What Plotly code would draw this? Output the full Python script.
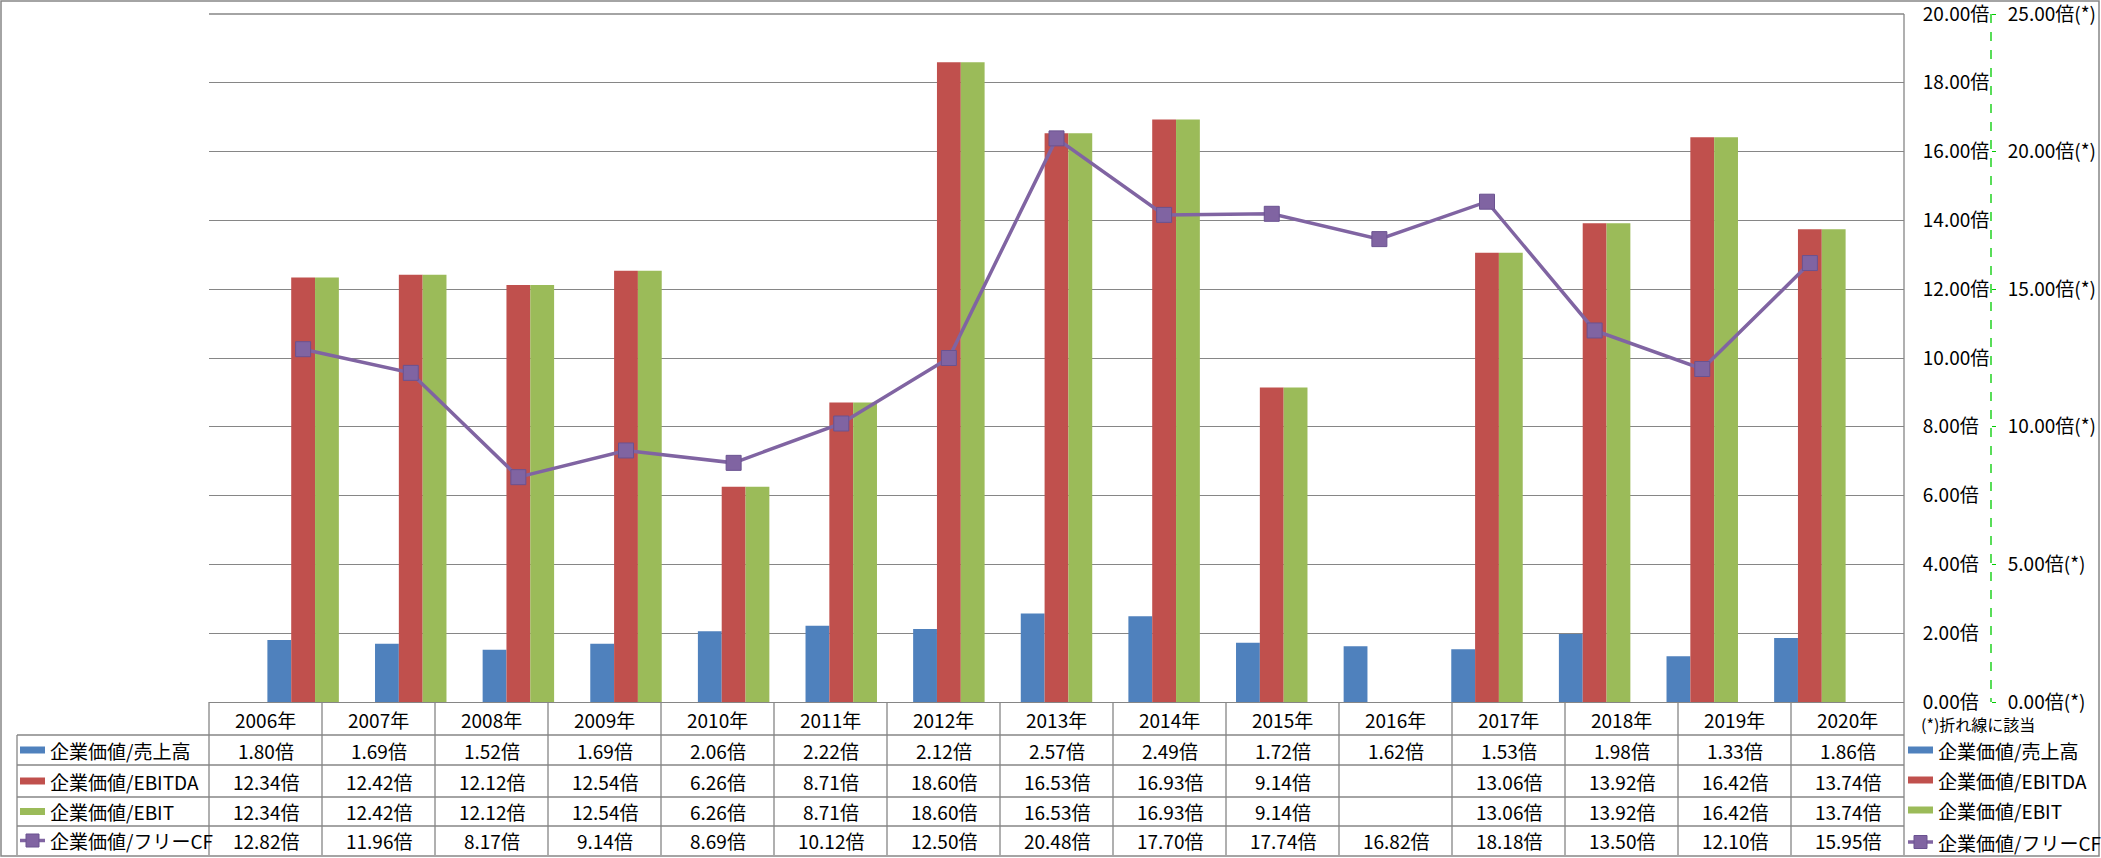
import plotly.graph_objects as go

W, H = 2101, 858

years = ["2006年", "2007年", "2008年", "2009年", "2010年", "2011年", "2012年", "2013年",
         "2014年", "2015年", "2016年", "2017年", "2018年", "2019年", "2020年"]
ev_sales = [1.80, 1.69, 1.52, 1.69, 2.06, 2.22, 2.12, 2.57, 2.49, 1.72, 1.62, 1.53, 1.98, 1.33, 1.86]
ev_ebitda = [12.34, 12.42, 12.12, 12.54, 6.26, 8.71, 18.60, 16.53, 16.93, 9.14, None, 13.06, 13.92, 16.42, 13.74]
ev_ebit = [12.34, 12.42, 12.12, 12.54, 6.26, 8.71, 18.60, 16.53, 16.93, 9.14, None, 13.06, 13.92, 16.42, 13.74]
ev_fcf = [12.82, 11.96, 8.17, 9.14, 8.69, 10.12, 12.50, 20.48, 17.70, 17.74, 16.82, 18.18, 13.50, 12.10, 15.95]

names = ["企業価値/売上高", "企業価値/EBITDA", "企業価値/EBIT", "企業価値/フリーCF"]
colors = ["#4F81BD", "#C0504D", "#9BBB59", "#8064A2"]

FONT = "Noto Sans CJK JP, sans-serif"
GRID = "#868686"

# plot area in pixels
X0, X1 = 209, 1904
Y0, Y1 = 14, 702


def px(x):
    return x / W


def py(y):
    return 1 - y / H


fig = go.Figure()
for vals, name, col in zip([ev_sales, ev_ebitda, ev_ebit], names[:3], colors[:3]):
    fig.add_trace(go.Bar(x=years, y=vals, name=name, marker=dict(color=col, line_width=0)))

fig.add_trace(go.Scatter(
    x=years, y=ev_fcf, name=names[3], yaxis="y2", mode="lines+markers",
    line=dict(color=colors[3], width=3.5),
    marker=dict(symbol="square", size=15, color=colors[3], line=dict(color="#6A5290", width=1)),
))

shapes = []
annotations = []


def hline(y, xa, xb, color=GRID, width=1.3):
    shapes.append(dict(type="line", xref="paper", yref="paper", x0=px(xa), x1=px(xb),
                       y0=py(y), y1=py(y), line=dict(color=color, width=width)))


def vline(x, ya, yb, color=GRID, width=1.3, dash=None):
    shapes.append(dict(type="line", xref="paper", yref="paper", x0=px(x), x1=px(x),
                       y0=py(ya), y1=py(yb), line=dict(color=color, width=width, dash=dash)))


def text(x, y, s, size=19, xanchor="center"):
    annotations.append(dict(x=px(x), y=py(y), xref="paper", yref="paper", text=s,
                            showarrow=False, xanchor=xanchor, yanchor="middle",
                            font=dict(family=FONT, size=size, color="#000000")))


# outer frame
shapes.append(dict(type="rect", xref="paper", yref="paper", x0=px(1), x1=px(W - 2),
                   y0=py(H - 2), y1=py(1), line=dict(color=GRID, width=1.5)))

# top gridline and right border of plot area
hline(Y0, X0, X1)
vline(X1, Y0, Y1)

# secondary axis dashed line
vline(1991, Y0, Y1, color="#00CC00", width=1.3, dash="dash")

# data table
col_w = (X1 - X0) / len(years)
row_edges = [702, 735, 765, 797, 826, 855]
hline(735, 17, X1)
for y in row_edges[2:5]:
    hline(y, 17, X1)
vline(17, 735, 855)
for i in range(len(years) + 1):
    vline(X0 + i * col_w, 702, 855)

for i, yr in enumerate(years):
    cx = X0 + (i + 0.5) * col_w
    text(cx, 719, yr)
    for r, series in enumerate([ev_sales, ev_ebitda, ev_ebit, ev_fcf]):
        v = series[i]
        if v is not None:
            text(cx, (row_edges[r + 1] + row_edges[r + 2]) / 2, f"{v:.2f}倍")


def legend_key(x, yc, k):
    if k < 3:
        shapes.append(dict(type="rect", xref="paper", yref="paper", x0=px(x), x1=px(x + 25),
                           y0=py(yc + 3.5), y1=py(yc - 3.5), line_width=0, fillcolor=colors[k]))
    else:
        shapes.append(dict(type="line", xref="paper", yref="paper", x0=px(x), x1=px(x + 25),
                           y0=py(yc), y1=py(yc), line=dict(color=colors[k], width=3.5)))
        shapes.append(dict(type="rect", xref="paper", yref="paper", x0=px(x + 6), x1=px(x + 19),
                           y0=py(yc + 6.5), y1=py(yc - 6.5), line=dict(color="#6A5290", width=1),
                           fillcolor=colors[k]))


# row headers in table
for k, nm in enumerate(names):
    yc = (row_edges[k + 1] + row_edges[k + 2]) / 2
    legend_key(20, yc, k)
    text(48, yc, nm, size=19, xanchor="left")

# right-hand legend
text(1919, 724, "(*)折れ線に該当", size=16, xanchor="left")
for k, (nm, yc) in enumerate(zip(names, [750, 780, 810, 842])):
    legend_key(1908, yc, k)
    text(1936, yc, nm, size=19, xanchor="left")

fig.update_layout(
    width=W, height=H,
    margin=dict(l=0, r=0, t=0, b=0, autoexpand=False),
    paper_bgcolor="white", plot_bgcolor="white",
    barmode="group", bargap=0.336, bargroupgap=0,
    showlegend=False,
    font=dict(family=FONT, color="#000000"),
    xaxis=dict(domain=[px(X0), px(X1)], showticklabels=False, showgrid=False,
               showline=True, linecolor=GRID, linewidth=1.3, ticks="", zeroline=False),
    yaxis=dict(domain=[py(Y1), py(Y0)], range=[0, 20.0001], dtick=2, side="right",
               tickformat=".2f", ticksuffix="倍", showgrid=True, gridcolor=GRID, gridwidth=1.3,
               zeroline=False, ticks="outside", ticklen=14, tickcolor="rgba(0,0,0,0)",
               ticklabeloverflow="allow",
               tickfont=dict(family=FONT, size=19, color="#000000"), automargin=False),
    yaxis2=dict(overlaying="y", anchor="free", position=px(1991), side="right",
                range=[0, 25.0001], dtick=5, tickformat=".2f", ticksuffix="倍(*)",
                showgrid=False, zeroline=False, ticks="outside", ticklen=4,
                tickcolor="#00CC00", tickwidth=1.3, ticklabeloverflow="allow",
                ticklabelstandoff=8,
                tickfont=dict(family=FONT, size=19, color="#000000"), automargin=False),
    shapes=shapes,
    annotations=annotations,
)

fig.write_html("out.html", config={"displayModeBar": False},
               post_script="document.body.style.margin='0';")
